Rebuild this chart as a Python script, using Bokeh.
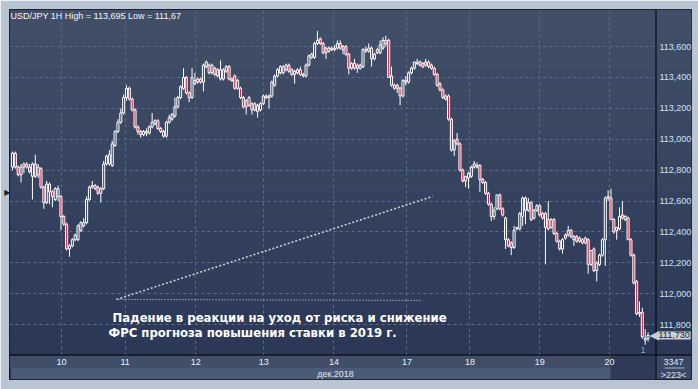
from bokeh.plotting import figure
from bokeh.models import (Range1d, FixedTicker, CustomJSTickFormatter, Label,
                          BoxAnnotation, ColumnDataSource, LinearAxis)
from bokeh.core.properties import value
from bokeh.embed import file_html
from bokeh.resources import INLINE

# ---------------- data ----------------
title_text = "USD/JPY 1H High = 113,695 Low = 111,67"

opens = [
    112.82, 112.91, 112.82, 112.77, 112.82, 112.84, 112.82, 112.76, 112.84, 112.77,
    112.81, 112.69, 112.59, 112.71, 112.66, 112.61, 112.63, 112.63, 112.50, 112.45,
    112.29, 112.31, 112.35, 112.35, 112.41, 112.44, 112.46, 112.61, 112.69, 112.70,
    112.69, 112.65, 112.68, 112.84, 112.84, 112.83, 112.96, 113.05, 113.11, 113.17,
    113.27, 113.33, 113.26, 113.19, 113.08, 113.05, 113.03, 113.05, 113.04, 113.08,
    113.10, 113.12, 113.07, 113.05, 113.02, 113.11, 113.13, 113.15,
    113.21, 113.27, 113.33, 113.40, 113.30, 113.27, 113.36, 113.37, 113.39, 113.37,
    113.47, 113.48, 113.43, 113.46, 113.45, 113.39, 113.45, 113.44, 113.47, 113.39,
    113.41, 113.38, 113.33, 113.27, 113.25, 113.22, 113.23, 113.19, 113.22, 113.19,
    113.23, 113.28, 113.27, 113.28, 113.35, 113.41, 113.43, 113.47, 113.45, 113.48,
    113.45, 113.42, 113.43, 113.45, 113.42, 113.41, 113.48, 113.53, 113.53, 113.62,
    113.65, 113.62, 113.59, 113.57, 113.59, 113.58,
    113.59, 113.62, 113.58, 113.60, 113.55, 113.46, 113.49, 113.46, 113.46, 113.47,
    113.58, 113.57, 113.59, 113.52, 113.58, 113.56, 113.59, 113.62, 113.64, 113.41,
    113.35, 113.35, 113.33, 113.28, 113.38, 113.37, 113.43, 113.46, 113.49, 113.50,
    113.49, 113.48, 113.50, 113.48, 113.46, 113.42, 113.36, 113.32, 113.26, 113.28,
    113.13, 112.93, 113.00, 112.97, 112.80, 112.73, 112.75, 112.76, 112.82, 112.82,
    112.83, 112.74, 112.72, 112.65, 112.58, 112.50,
    112.55, 112.64, 112.55, 112.49, 112.35, 112.33, 112.30, 112.42, 112.42, 112.50,
    112.62, 112.54, 112.59, 112.49, 112.54, 112.57, 112.52, 112.52, 112.48, 112.43,
    112.48, 112.39, 112.34, 112.29, 112.38, 112.38, 112.41, 112.35, 112.37, 112.34,
    112.35, 112.33, 112.35, 112.19, 112.29, 112.15, 112.19, 112.25, 112.35, 112.62,
    112.62, 112.48, 112.41, 112.42, 112.51, 112.48, 112.49, 112.35, 112.25, 112.08,
    111.87, 111.88, 111.70, 111.71,
]
highs = [
    112.92, 112.92, 112.83, 112.84, 112.85, 112.85, 112.84, 112.85, 112.90, 112.84,
    112.82, 112.70, 112.73, 112.72, 112.67, 112.69, 112.70, 112.64, 112.51, 112.46,
    112.32, 112.36, 112.39, 112.45, 112.47, 112.49, 112.63, 112.70, 112.73, 112.71,
    112.70, 112.69, 112.86, 112.90, 112.93, 112.99, 113.06, 113.13, 113.20, 113.29,
    113.35, 113.34, 113.27, 113.20, 113.09, 113.06, 113.06, 113.07, 113.09, 113.17,
    113.13, 113.13, 113.08, 113.06, 113.12, 113.16, 113.17, 113.27,
    113.28, 113.35, 113.46, 113.41, 113.31, 113.46, 113.43, 113.40, 113.40, 113.49,
    113.51, 113.49, 113.49, 113.47, 113.46, 113.51, 113.46, 113.48, 113.48, 113.40,
    113.42, 113.39, 113.34, 113.28, 113.26, 113.28, 113.24, 113.24, 113.23, 113.24,
    113.29, 113.29, 113.29, 113.38, 113.42, 113.46, 113.48, 113.48, 113.49, 113.49,
    113.46, 113.45, 113.46, 113.47, 113.43, 113.49, 113.55, 113.56, 113.63, 113.70,
    113.66, 113.63, 113.60, 113.60, 113.60, 113.61,
    113.64, 113.64, 113.61, 113.61, 113.56, 113.50, 113.52, 113.49, 113.49, 113.59,
    113.60, 113.62, 113.60, 113.56, 113.59, 113.64, 113.66, 113.67, 113.65, 113.47,
    113.36, 113.36, 113.34, 113.39, 113.41, 113.44, 113.47, 113.50, 113.52, 113.51,
    113.50, 113.52, 113.51, 113.49, 113.47, 113.43, 113.37, 113.33, 113.29, 113.29,
    113.14, 113.00, 113.04, 112.98, 112.81, 112.76, 112.79, 112.83, 112.86, 112.85,
    112.84, 112.75, 112.73, 112.66, 112.59, 112.56,
    112.64, 112.65, 112.56, 112.50, 112.36, 112.34, 112.44, 112.43, 112.53, 112.63,
    112.63, 112.62, 112.60, 112.55, 112.58, 112.58, 112.53, 112.53, 112.60, 112.49,
    112.49, 112.40, 112.35, 112.36, 112.39, 112.44, 112.42, 112.38, 112.38, 112.37,
    112.36, 112.37, 112.36, 112.28, 112.30, 112.21, 112.26, 112.36, 112.63, 112.67,
    112.68, 112.49, 112.43, 112.56, 112.60, 112.51, 112.50, 112.36, 112.26, 112.09,
    111.95, 111.91, 111.77, 111.75,
]
lows = [
    112.80, 112.81, 112.76, 112.72, 112.78, 112.81, 112.78, 112.61, 112.75, 112.75,
    112.68, 112.55, 112.58, 112.58, 112.56, 112.60, 112.60, 112.41, 112.44, 112.28,
    112.24, 112.30, 112.34, 112.34, 112.40, 112.43, 112.45, 112.60, 112.68, 112.67,
    112.64, 112.59, 112.67, 112.83, 112.83, 112.82, 112.95, 113.04, 113.10, 113.16,
    113.25, 113.25, 113.18, 113.07, 113.03, 113.01, 113.02, 113.02, 113.03, 113.07,
    113.09, 113.06, 113.04, 113.01, 113.01, 113.10, 113.12, 113.14,
    113.20, 113.26, 113.32, 113.29, 113.24, 113.26, 113.35, 113.36, 113.36, 113.31,
    113.46, 113.42, 113.42, 113.41, 113.40, 113.38, 113.38, 113.43, 113.38, 113.37,
    113.32, 113.32, 113.26, 113.20, 113.16, 113.21, 113.16, 113.18, 113.14, 113.18,
    113.22, 113.26, 113.20, 113.27, 113.34, 113.40, 113.42, 113.42, 113.44, 113.43,
    113.41, 113.36, 113.42, 113.41, 113.40, 113.40, 113.47, 113.52, 113.52, 113.61,
    113.61, 113.55, 113.52, 113.56, 113.57, 113.57,
    113.58, 113.58, 113.55, 113.54, 113.42, 113.45, 113.45, 113.43, 113.45, 113.46,
    113.56, 113.56, 113.47, 113.51, 113.55, 113.55, 113.58, 113.60, 113.40, 113.34,
    113.32, 113.30, 113.22, 113.27, 113.35, 113.36, 113.42, 113.45, 113.48, 113.47,
    113.46, 113.47, 113.46, 113.45, 113.41, 113.34, 113.31, 113.26, 113.25, 113.12,
    112.92, 112.89, 112.96, 112.79, 112.72, 112.69, 112.68, 112.75, 112.81, 112.81,
    112.66, 112.71, 112.64, 112.57, 112.47, 112.48,
    112.54, 112.54, 112.50, 112.29, 112.30, 112.25, 112.29, 112.41, 112.41, 112.44,
    112.45, 112.53, 112.47, 112.48, 112.53, 112.50, 112.48, 112.19, 112.41, 112.42,
    112.38, 112.33, 112.28, 112.26, 112.35, 112.37, 112.36, 112.31, 112.33, 112.33,
    112.32, 112.32, 112.13, 112.18, 112.14, 112.08, 112.18, 112.24, 112.18, 112.60,
    112.48, 112.39, 112.35, 112.41, 112.48, 112.47, 112.35, 112.24, 112.06, 111.86,
    111.85, 111.71, 111.67, 111.69,
]
closes = [
    112.91, 112.82, 112.77, 112.82, 112.84, 112.82, 112.79, 112.84, 112.76, 112.82,
    112.69, 112.59, 112.71, 112.66, 112.63, 112.68, 112.68, 112.50, 112.45, 112.29,
    112.31, 112.35, 112.38, 112.44, 112.46, 112.46, 112.61, 112.69, 112.70, 112.68,
    112.65, 112.68, 112.84, 112.89, 112.90, 112.97, 113.05, 113.11, 113.17, 113.27,
    113.33, 113.26, 113.19, 113.08, 113.05, 113.03, 113.05, 113.04, 113.08, 113.11,
    113.12, 113.07, 113.05, 113.02, 113.11, 113.14, 113.16, 113.21,
    113.27, 113.34, 113.40, 113.30, 113.27, 113.40, 113.38, 113.39, 113.37, 113.48,
    113.50, 113.43, 113.48, 113.42, 113.41, 113.45, 113.39, 113.47, 113.39, 113.38,
    113.33, 113.33, 113.27, 113.21, 113.21, 113.27, 113.19, 113.23, 113.18, 113.23,
    113.28, 113.27, 113.28, 113.37, 113.41, 113.45, 113.47, 113.43, 113.48, 113.44,
    113.42, 113.44, 113.45, 113.42, 113.41, 113.48, 113.54, 113.55, 113.62, 113.64,
    113.62, 113.56, 113.56, 113.59, 113.58, 113.59,
    113.62, 113.59, 113.60, 113.55, 113.46, 113.49, 113.46, 113.48, 113.48, 113.58,
    113.57, 113.59, 113.52, 113.55, 113.56, 113.61, 113.64, 113.64, 113.40, 113.35,
    113.33, 113.33, 113.28, 113.38, 113.37, 113.43, 113.46, 113.50, 113.50, 113.48,
    113.47, 113.50, 113.47, 113.46, 113.42, 113.35, 113.32, 113.27, 113.28, 113.13,
    112.93, 112.99, 112.97, 112.80, 112.73, 112.76, 112.78, 112.82, 112.84, 112.83,
    112.74, 112.72, 112.65, 112.58, 112.50, 112.54,
    112.64, 112.55, 112.51, 112.35, 112.31, 112.30, 112.41, 112.43, 112.52, 112.62,
    112.54, 112.59, 112.48, 112.54, 112.57, 112.51, 112.49, 112.43, 112.42, 112.48,
    112.39, 112.34, 112.29, 112.35, 112.36, 112.41, 112.37, 112.37, 112.34, 112.36,
    112.33, 112.36, 112.19, 112.28, 112.15, 112.20, 112.25, 112.35, 112.62, 112.63,
    112.48, 112.40, 112.43, 112.50, 112.49, 112.50, 112.35, 112.25, 112.07, 111.87,
    111.88, 111.72, 111.71, 111.73,
]

day_ticks = [17.2, 39.5, 64.3, 88.2, 112.8, 138.4, 160.5, 185.0, 209.5]
day_labels = ["10", "11", "12", "13", "14", "17", "18", "19", "20"]
price_ticks = [111.8, 112.0, 112.2, 112.4, 112.6, 112.8, 113.0, 113.2, 113.4, 113.6]
month_label = "дек.2018"
total_bars = "3347"
visible_bars = ">223<"
note_lines = ["Падение в реакции на уход от риска и снижение",
              "ФРС прогноза повышения ставки в 2019 г."]
note_x = [35.1, 33.7]
note_y = [111.846, 111.743]
trend_x = [36.5, 147.4]
trend_y = [111.963, 112.630]
base_x = [36.5, 143.8]
base_y = [111.963, 111.957]

# ---------------- derived ----------------
n = len(closes)
idx = list(range(n))
body_top = [max(o, c) for o, c in zip(opens, closes)]
body_bot = [min(o, c) for o, c in zip(opens, closes)]
up = [c >= o for o, c in zip(opens, closes)]

src_up = ColumnDataSource(dict(x=[i for i in idx if up[i]],
                               top=[body_top[i] for i in idx if up[i]],
                               bot=[body_bot[i] for i in idx if up[i]]))
src_dn = ColumnDataSource(dict(x=[i for i in idx if not up[i]],
                               top=[body_top[i] for i in idx if not up[i]],
                               bot=[body_bot[i] for i in idx if not up[i]]))
wick = ColumnDataSource(dict(x=idx + idx, y0=highs + body_bot, y1=body_top + lows))

FONT = "Liberation Sans"
# frame covers the whole dark chart panel (canvas x 9..691, y 9..379);
# price data area is x 9..655, y 9..354
FX0, FY1 = 9, 379
p = figure(width=698, height=389, output_backend="svg", toolbar_location=None,
           x_range=Range1d(-1.05, 238.25), y_range=Range1d(111.445, 113.84),
           y_axis_location="right",
           min_border_left=9, min_border_top=9, min_border_right=7, min_border_bottom=10)
p.border_fill_color = "#bac5d4"
p.background_fill_color = "#36445f"
p.outline_line_color = "#0e1420"
p.outline_line_width = 1

def cbox(l, r, t, b, color, level="image"):
    bx = BoxAnnotation(left=l, right=r, top=t, bottom=b,
                       left_units="canvas", right_units="canvas",
                       top_units="canvas", bottom_units="canvas",
                       fill_color=color, fill_alpha=1.0, line_alpha=0, level=level)
    p.add_layout(bx)

# background gradient bands
top_rgb = (65, 79, 104)
bot_rgb = (43, 56, 87)
nb = 23
band_cols = []
for k in range(nb):
    t = (k + 0.5) / nb
    c = tuple(int(round(a + (b - a) * t)) for a, b in zip(top_rgb, bot_rgb))
    band_cols.append("#%02x%02x%02x" % c)
for k in range(nb):
    y0 = 9 + k * 345 / nb
    y1 = 9 + (k + 1) * 345 / nb + 1
    cbox(9, 691, y0, y1, band_cols[k], level="image")
    cbox(656, 691, y0, y1, band_cols[k], level="glyph")   # right price panel, hides grid
# bottom strips (hide grid)
cbox(9, 655, 355, 367, "#404e68", level="glyph")
cbox(11, 655, 367, 379, "#4b5a77", level="glyph")
cbox(610, 655, 355, 379, "#2f3b56", level="glyph")
cbox(656, 691, 355, 379, "#3a4866", level="glyph")
# dark separators
cbox(9, 691, 354, 355, "#000000", level="annotation")
cbox(655, 656, 9, 379, "#000000", level="annotation")
cbox(664, 684, 367, 368, "#a6b4c8", level="annotation")

# grid
p.xgrid.ticker = FixedTicker(ticks=day_ticks)
p.ygrid.ticker = FixedTicker(ticks=price_ticks)
for g in (p.xgrid, p.ygrid):
    g.grid_line_color = "#5b6a85"
    g.grid_line_dash = "3 3"
    g.grid_line_width = 1

# axes (labels drawn inside the dark panel strips)
xax = p.xaxis[0]
yax = p.yaxis[0]
xax.ticker = FixedTicker(ticks=day_ticks)
xax.formatter = CustomJSTickFormatter(args=dict(pos=day_ticks, lab=day_labels),
    code="const i = pos.indexOf(tick); return i >= 0 ? lab[i] : '';")
yax.ticker = FixedTicker(ticks=price_ticks)
yax.formatter = CustomJSTickFormatter(code="return tick.toFixed(3).replace('.', ',');")
for ax in (xax, yax):
    ax.axis_line_color = None
    ax.major_tick_line_color = None
    ax.minor_tick_line_color = None
    ax.major_tick_out = 0
    ax.major_tick_in = 0
    ax.major_label_text_font = FONT
    ax.major_label_text_font_size = "9px"
xax.major_label_text_color = "#e8eef6"
xax.major_label_standoff = -21
yax.major_label_text_color = "#cfe0f6"
yax.major_label_standoff = -32

# left frame marker (kept narrow so it does not push the frame)
lax = LinearAxis(ticker=FixedTicker(ticks=[112.656]),
                 formatter=CustomJSTickFormatter(code="return '\u25b6';"),
                 axis_line_color=None, major_tick_line_color=None, minor_tick_line_color=None,
                 major_tick_out=0, major_tick_in=0, major_label_standoff=-1,
                 major_label_text_font="DejaVu Sans", major_label_text_font_size="8px",
                 major_label_text_color="#1c2433")
p.add_layout(lax, "left")

# candles
p.segment(x0="x", y0="y0", x1="x", y1="y1", source=wick, line_color="#ffffff", line_width=1)
p.vbar(x="x", top="top", bottom="bot", width=0.72, source=src_up,
       fill_alpha=0, line_color="#ffffff", line_width=1)
p.vbar(x="x", top="top", bottom="bot", width=0.72, source=src_dn,
       fill_color="#e4133a", line_color="#ffffff", line_width=1)

# annotation lines and text
p.line(trend_x, trend_y, line_color="#c9ced8", line_width=1.6, line_dash="2 2")
p.line(base_x, base_y, line_color="#d4d8e0", line_width=1, line_dash="1 2")
p.text(x=note_x, y=note_y, text=note_lines, text_color="#ffffff",
       text_font=value("DejaVu Sans"), text_font_style="bold", text_font_size="11.7px",
       text_baseline="middle", text_align="left")

def lab(cx, cy, text, color, size="9px", align="left", baseline="middle", ydata=False,
        font=FONT, **kw):
    L = Label(x=cx - FX0, y=(cy if ydata else FY1 - cy),
              x_units="screen", y_units=("data" if ydata else "screen"),
              text=text, text_color=color, text_font=font, text_font_size=size,
              text_align=align, text_baseline=baseline, **kw)
    p.add_layout(L)
    return L

lab(10, 10, title_text, "#f2f5f9", baseline="top")
lab(335, 373, month_label, "#dfe6ef", align="center")
lab(673, 361, total_bars, "#dde5f0", align="center")
lab(673, 374, visible_bars, "#dde5f0", align="center")
lab(640, 349, "1", "#8fa1bd")
last_txt = ("%.3f" % closes[-1]).replace(".", ",")
lab(649, closes[-1], "\u25c0", "#c9ced7", size="12px", ydata=True, font="DejaVu Sans")
try:
    lab(657, closes[-1], last_txt, "#1b2233", ydata=True,
        background_fill_color="#c9ced7", background_fill_alpha=1.0, padding=1)
except Exception:
    lab(657, closes[-1], last_txt, "#1b2233", ydata=True,
        background_fill_color="#c9ced7", background_fill_alpha=1.0)

open("out.html", "w").write(file_html(p, INLINE))
